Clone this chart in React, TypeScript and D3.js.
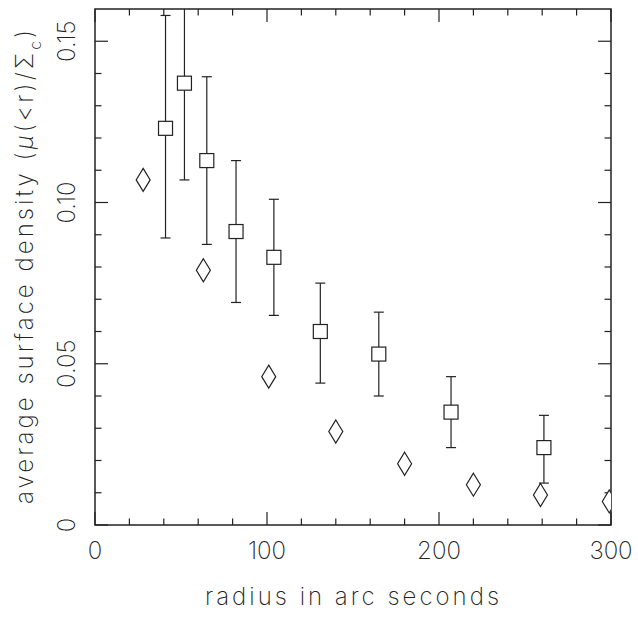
import React from 'react';
import * as d3 from 'd3';

// squares with error bars
const radiusSq = [41, 52, 65, 82, 104, 131, 165, 207, 261];
const densitySq = [0.123, 0.137, 0.113, 0.091, 0.083, 0.06, 0.053, 0.035, 0.024];
const errHigh = [0.158, 0.175, 0.139, 0.113, 0.101, 0.075, 0.066, 0.046, 0.034];
const errLow = [0.089, 0.107, 0.087, 0.069, 0.065, 0.044, 0.04, 0.024, 0.013];

// diamonds
const radiusDia = [28, 63, 101, 140, 180, 220, 259, 299];
const densityDia = [0.107, 0.079, 0.046, 0.029, 0.019, 0.0125, 0.0093, 0.0073];

const xMajor = [0, 100, 200, 300];
const yMajor = [0, 0.05, 0.1, 0.15];
const yLabels = ['0', '0.05', '0.10', '0.15'];

const W = 638;
const H = 617;
const left = 95;
const right = 611;
const top = 9;
const bottom = 525;

const font = 'Inter, "Liberation Sans", sans-serif';
const ink = '#222';

const App = () => {
  const x = d3.scaleLinear().domain([0, 300]).range([left, right]);
  const y = d3.scaleLinear().domain([0, 0.16]).range([bottom, top]);

  const xMinor = d3.range(0, 301, 20);
  const yMinor = d3.range(0, 16).map((d) => d / 100);

  const diamond = (cx: number, cy: number) =>
    `M${cx},${cy - 11.5}L${cx + 7},${cy}L${cx},${cy + 11.5}L${cx - 7},${cy}Z`;

  return (
    <svg
      width={W}
      height={H}
      style={{ position: 'absolute', left: 0, top: 0, background: '#fff' }}
    >
      <defs>
        <clipPath id="plot">
          <rect x={left} y={top} width={right - left} height={bottom - top} />
        </clipPath>
      </defs>

      {/* ticks on all four sides, pointing inward */}
      <g stroke={ink} strokeWidth={1.2}>
        {xMinor.map((v) => {
          const len = v % 100 === 0 ? 13 : 6.5;
          return (
            <g key={'xt' + v}>
              <line x1={x(v)} x2={x(v)} y1={bottom} y2={bottom - len} />
              <line x1={x(v)} x2={x(v)} y1={top} y2={top + len} />
            </g>
          );
        })}
        {yMinor.map((v, i) => {
          const len = i % 5 === 0 ? 13 : 6.5;
          return (
            <g key={'yt' + i}>
              <line x1={left} x2={left + len} y1={y(v)} y2={y(v)} />
              <line x1={right} x2={right - len} y1={y(v)} y2={y(v)} />
            </g>
          );
        })}
        <rect
          x={left}
          y={top}
          width={right - left}
          height={bottom - top}
          fill="none"
          strokeWidth={1.5}
        />
      </g>

      <g clipPath="url(#plot)" stroke={ink} strokeWidth={1.2} fill="none">
        {radiusSq.map((r, i) => (
          <g key={'sq' + i}>
            <line x1={x(r)} x2={x(r)} y1={y(errHigh[i])} y2={y(errLow[i])} />
            <line x1={x(r) - 5} x2={x(r) + 5} y1={y(errHigh[i])} y2={y(errHigh[i])} />
            <line x1={x(r) - 5} x2={x(r) + 5} y1={y(errLow[i])} y2={y(errLow[i])} />
            <rect
              x={x(r) - 7}
              y={y(densitySq[i]) - 7}
              width={14}
              height={14}
              fill="#fff"
            />
          </g>
        ))}
        {radiusDia.map((r, i) => (
          <path key={'di' + i} d={diamond(x(r), y(densityDia[i]))} fill="#fff" />
        ))}
      </g>

      {/* tick labels */}
      <g fontFamily={font} fontWeight={200} fontSize={24} fill={ink}>
        {xMajor.map((v) => (
          <text key={'xl' + v} x={x(v)} y={559} textAnchor="middle">
            {v}
          </text>
        ))}
        {yMajor.map((v, i) => (
          <text
            key={'yl' + i}
            transform={`translate(75,${y(v)}) rotate(-90)`}
            textAnchor="middle"
          >
            {yLabels[i]}
          </text>
        ))}
        <text
          x={352}
          y={605}
          textAnchor="middle"
          textLength={294}
          lengthAdjust="spacing"
        >
          radius in arc seconds
        </text>
        <text
          transform={`translate(33,267) rotate(-90)`}
          textAnchor="middle"
          textLength={474}
          lengthAdjust="spacing"
        >
          average surface density (<tspan fontStyle="italic">μ</tspan>(&lt;r)/Σ
          <tspan fontSize={16} dy={8}>c</tspan>
          <tspan dy={-8}>)</tspan>
        </text>
      </g>
    </svg>
  );
};

export default App;
